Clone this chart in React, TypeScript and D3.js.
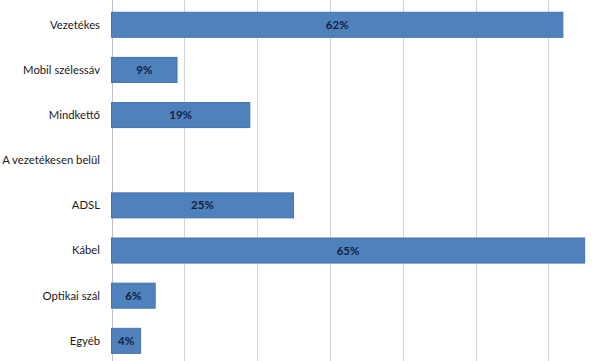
import React from "react";
import * as d3 from "d3";

const categories = [
  "Vezetékes",
  "Mobil szélessáv",
  "Mindkettő",
  "A vezetékesen belül",
  "ADSL",
  "Kábel",
  "Optikai szál",
  "Egyéb",
];
const values: (number | null)[] = [62, 9, 19, null, 25, 65, 6, 4];
const gridTicks = [0, 10, 20, 30, 40, 50, 60];

const W = 593;
const H = 361;

export default function App() {
  const x = d3.scaleLinear().domain([0, 70]).range([111.5, 621.1]);
  const y = d3
    .scaleBand<string>()
    .domain(categories)
    .range([2.2, 363.4])
    .paddingInner(0.446)
    .paddingOuter(0.223);

  return (
    <svg
      width={W}
      height={H}
      style={{ position: "absolute", left: 0, top: 0, background: "#fff" }}
      fontFamily="Lato, 'Liberation Sans', Arial, sans-serif"
    >
      {gridTicks.map((t) => (
        <line
          key={t}
          x1={Math.round(x(t)) + 0.5}
          x2={Math.round(x(t)) + 0.5}
          y1={0}
          y2={H}
          stroke={t === 0 ? "#bfbfbf" : "#d4d4d4"}
          strokeWidth={1}
        />
      ))}
      {categories.map((c, i) => {
        const v = values[i];
        const yy = y(c)!;
        const bw = y.bandwidth();
        return (
          <g key={c}>
            {v !== null && (
              <rect
                x={x(0)}
                y={yy}
                width={x(v) - x(0)}
                height={bw}
                fill="#4f81bd"
                stroke="#4673ab"
                strokeWidth={1}
              />
            )}
            {v !== null && (
              <text
                x={(x(0) + x(v)) / 2}
                y={yy + bw / 2}
                dy="0.35em"
                textAnchor="middle"
                fontSize={11.5}
                fontWeight="bold"
                fill="#0f1f3d"
              >
                {v}%
              </text>
            )}
            <text
              x={100}
              y={yy + bw / 2}
              dy="0.35em"
              textAnchor="end"
              fontSize={11.3}
              fill="#1a1a1a"
            >
              {c}
            </text>
          </g>
        );
      })}
    </svg>
  );
}
